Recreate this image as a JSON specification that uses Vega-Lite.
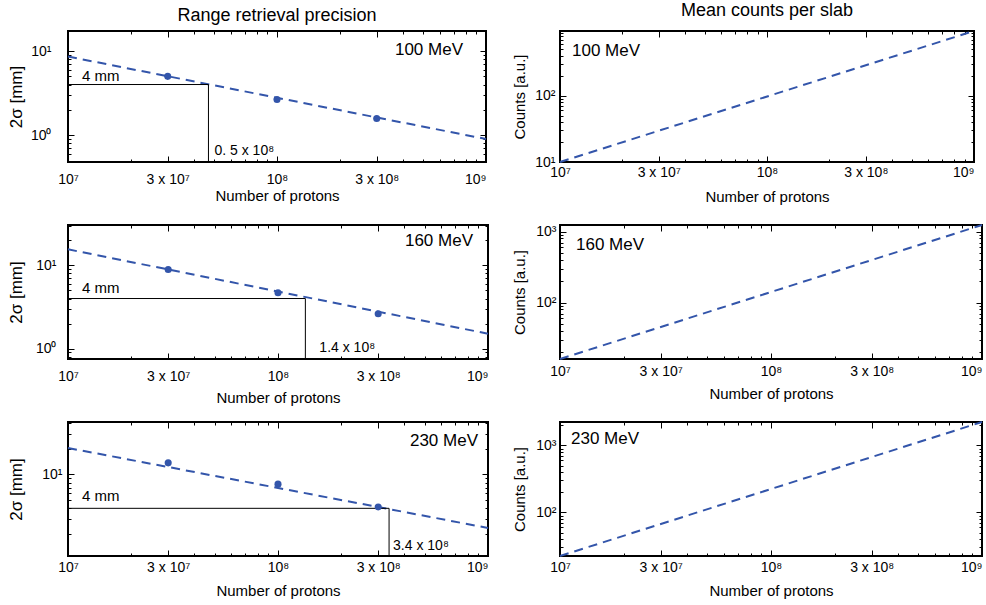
{
  "$schema": "https://vega.github.io/schema/vega-lite/v6.json",
  "background": "white",
  "padding": {"left": 5, "top": 0, "right": 5, "bottom": 5},
  "config": {
    "font": "Liberation Sans",
    "view": {"stroke": "black", "strokeWidth": 2},
    "axis": {"domain": false, "grid": false, "labelFont": "Liberation Sans", "labelFontSize": 14, "labelColor": "black", "titleFont": "Liberation Sans", "titleFontWeight": "normal", "titleColor": "black", "tickColor": "black", "tickWidth": 1, "labelFlush": false, "labelOverlap": false},
    "title": {"font": "Liberation Sans", "fontWeight": "normal", "color": "black", "fontSize": 18}
  },
  "datasets": {
    "lineA": [{"n": 10000000, "v": 8.6}, {"n": 1000000000, "v": 0.9}],
    "ptsA": [{"n": 30000000, "v": 5.0}, {"n": 100000000, "v": 2.66}, {"n": 300000000, "v": 1.58}],
    "thrA": [{"n0": 10000000, "n": 47000000, "v0": 0.48, "v": 4, "tag": "4 mm", "label": "0. 5 x 10⁸"}],
    "enA": [{"n": 1000000000, "v": 17.3, "label": "100 MeV"}],
    "lineB": [{"n": 10000000, "v": 10}, {"n": 1000000000, "v": 950}],
    "enB": [{"n": 10000000, "v": 950, "label": "100 MeV"}],
    "lineC": [{"n": 10000000, "v": 15.6}, {"n": 1000000000, "v": 1.51}],
    "ptsC": [{"n": 30000000, "v": 8.94}, {"n": 100000000, "v": 4.7}, {"n": 300000000, "v": 2.63}],
    "thrC": [{"n0": 10000000, "n": 135000000, "v0": 0.75, "v": 4, "tag": "4 mm", "label": "1.4 x 10⁸"}],
    "enC": [{"n": 1000000000, "v": 30.6, "label": "160 MeV"}],
    "lineD": [{"n": 10000000, "v": 16}, {"n": 1000000000, "v": 1240}],
    "enD": [{"n": 10000000, "v": 1240, "label": "160 MeV"}],
    "lineE": [{"n": 10000000, "v": 20.5}, {"n": 1000000000, "v": 2.35}],
    "ptsE": [{"n": 30000000, "v": 13.7}, {"n": 100000000, "v": 7.7}, {"n": 300000000, "v": 4.15}],
    "thrE": [{"n0": 10000000, "n": 338000000, "v0": 1.1, "v": 4, "tag": "4 mm", "label": "3.4 x 10⁸"}],
    "enE": [{"n": 1000000000, "v": 41.4, "label": "230 MeV"}],
    "lineF": [{"n": 10000000, "v": 22.4}, {"n": 1000000000, "v": 2240}],
    "enF": [{"n": 10000000, "v": 2240, "label": "230 MeV"}]
  },
  "columns": 2,
  "spacing": {"row": 63, "column": 72},
  "bounds": "flush",
  "resolve": {"scale": {"x": "independent", "y": "independent"}},
  "concat": [
    {
      "width": 418, "height": 131,
      "title": {"text": "Range retrieval precision", "frame": "group", "offset": -8, "baseline": "alphabetic"},
      "resolve": {"axis": {"x": "independent", "y": "independent"}},
      "layer": [
        {
          "data": {"name": "lineA"},
          "mark": {"type": "line", "color": "#3355aa", "strokeDash": [9, 6], "strokeWidth": 2},
          "encoding": {
            "x": {"field": "n", "type": "quantitative", "scale": {"type": "log", "domain": [10000000, 1000000000], "nice": false},
              "axis": {"orient": "bottom", "values": [10000000,20000000,30000000,40000000,50000000,60000000,70000000,80000000,90000000,100000000,200000000,300000000,400000000,500000000,600000000,700000000,800000000,900000000,1000000000],
                "labelExpr": "datum.value == 10000000 ? '10⁷' : datum.value == 30000000 ? '3 x 10⁷' : datum.value == 100000000 ? '10⁸' : datum.value == 300000000 ? '3 x 10⁸' : datum.value == 1000000000 ? '10⁹' : ''",
                "labelAlign": {"condition": {"test": "datum.value == 1000000000", "value": "right"}, "value": "center"},
                "tickSize": {"condition": {"test": "datum.value == 10000000 || datum.value == 30000000 || datum.value == 100000000 || datum.value == 300000000 || datum.value == 1000000000", "value": -6}, "value": -3},
                "labelPadding": 16, "title": "Number of protons", "titleFontSize": 15, "titleY": 26}},
            "y": {"field": "v", "type": "quantitative", "scale": {"type": "log", "domain": [0.48, 17.3], "nice": false},
              "axis": {"orient": "left", "values": [0.5,0.6,0.7,0.8,0.9,1,2,3,4,5,6,7,8,9,10],
                "labelExpr": "datum.value == 1 ? '10⁰' : datum.value == 10 ? '10¹' : datum.value == 100 ? '10²' : datum.value == 1000 ? '10³' : ''",
                "tickSize": {"condition": {"test": "datum.value == 1 || datum.value == 10 || datum.value == 100 || datum.value == 1000", "value": -6}, "value": -3},
                "labelPadding": 23, "title": "2σ [mm]", "titleFontSize": 17, "titleX": -43}}
          }
        },
        {
          "data": {"name": "enA"},
          "mark": {"type": "text", "align": "right", "baseline": "top", "dx": -23, "dy": 11, "fontSize": 17},
          "encoding": {
            "x": {"field": "n", "type": "quantitative", "scale": {"type": "log", "domain": [10000000, 1000000000], "nice": false},
              "axis": {"orient": "top", "labels": false, "title": null, "values": [10000000,20000000,30000000,40000000,50000000,60000000,70000000,80000000,90000000,100000000,200000000,300000000,400000000,500000000,600000000,700000000,800000000,900000000,1000000000],
                "tickSize": {"condition": {"test": "datum.value == 10000000 || datum.value == 30000000 || datum.value == 100000000 || datum.value == 300000000 || datum.value == 1000000000", "value": -6}, "value": -3}}},
            "y": {"field": "v", "type": "quantitative", "scale": {"type": "log", "domain": [0.48, 17.3], "nice": false},
              "axis": {"orient": "right", "labels": false, "title": null, "values": [0.5,0.6,0.7,0.8,0.9,1,2,3,4,5,6,7,8,9,10],
                "tickSize": {"condition": {"test": "datum.value == 1 || datum.value == 10 || datum.value == 100 || datum.value == 1000", "value": -6}, "value": -3}}},
            "text": {"field": "label"}
          }
        },
        {
          "data": {"name": "thrA"},
          "mark": {"type": "rule", "color": "black", "strokeWidth": 1},
          "encoding": {
            "x": {"field": "n0", "type": "quantitative", "scale": {"type": "log", "domain": [10000000, 1000000000], "nice": false}, "axis": null},
            "x2": {"field": "n"},
            "y": {"field": "v", "type": "quantitative", "scale": {"type": "log", "domain": [0.48, 17.3], "nice": false}, "axis": null}
          }
        },
        {
          "data": {"name": "thrA"},
          "mark": {"type": "rule", "color": "black", "strokeWidth": 1},
          "encoding": {
            "x": {"field": "n", "type": "quantitative", "scale": {"type": "log", "domain": [10000000, 1000000000], "nice": false}, "axis": null},
            "y": {"field": "v0", "type": "quantitative", "scale": {"type": "log", "domain": [0.48, 17.3], "nice": false}, "axis": null},
            "y2": {"field": "v"}
          }
        },
        {
          "data": {"name": "thrA"},
          "mark": {"type": "text", "align": "left", "baseline": "bottom", "dx": 14, "dy": -1, "fontSize": 15},
          "encoding": {
            "x": {"field": "n0", "type": "quantitative", "scale": {"type": "log", "domain": [10000000, 1000000000], "nice": false}, "axis": null},
            "y": {"field": "v", "type": "quantitative", "scale": {"type": "log", "domain": [0.48, 17.3], "nice": false}, "axis": null},
            "text": {"field": "tag"}
          }
        },
        {
          "data": {"name": "thrA"},
          "mark": {"type": "text", "align": "left", "baseline": "bottom", "dx": 6, "dy": -4, "fontSize": 14},
          "encoding": {
            "x": {"field": "n", "type": "quantitative", "scale": {"type": "log", "domain": [10000000, 1000000000], "nice": false}, "axis": null},
            "y": {"field": "v0", "type": "quantitative", "scale": {"type": "log", "domain": [0.48, 17.3], "nice": false}, "axis": null},
            "text": {"field": "label"}
          }
        },
        {
          "data": {"name": "ptsA"},
          "mark": {"type": "circle", "color": "#3355aa", "size": 50, "opacity": 1},
          "encoding": {
            "x": {"field": "n", "type": "quantitative", "scale": {"type": "log", "domain": [10000000, 1000000000], "nice": false}, "axis": null},
            "y": {"field": "v", "type": "quantitative", "scale": {"type": "log", "domain": [0.48, 17.3], "nice": false}, "axis": null}
          }
        }
      ]
    },
    {
      "width": 414, "height": 131,
      "title": {"text": "Mean counts per slab", "frame": "group", "offset": -8, "baseline": "alphabetic"},
      "resolve": {"axis": {"x": "independent", "y": "independent"}},
      "layer": [
        {
          "data": {"name": "lineB"},
          "mark": {"type": "line", "color": "#3355aa", "strokeDash": [9, 6], "strokeWidth": 2},
          "encoding": {
            "x": {"field": "n", "type": "quantitative", "scale": {"type": "log", "domain": [10000000, 1000000000], "nice": false},
              "axis": {"orient": "bottom", "values": [10000000,20000000,30000000,40000000,50000000,60000000,70000000,80000000,90000000,100000000,200000000,300000000,400000000,500000000,600000000,700000000,800000000,900000000,1000000000],
                "labelExpr": "datum.value == 10000000 ? '10⁷' : datum.value == 30000000 ? '3 x 10⁷' : datum.value == 100000000 ? '10⁸' : datum.value == 300000000 ? '3 x 10⁸' : datum.value == 1000000000 ? '10⁹' : ''",
                "labelAlign": {"condition": {"test": "datum.value == 1000000000", "value": "right"}, "value": "center"},
                "tickSize": {"condition": {"test": "datum.value == 10000000 || datum.value == 30000000 || datum.value == 100000000 || datum.value == 300000000 || datum.value == 1000000000", "value": -6}, "value": -3},
                "labelPadding": 9, "title": "Number of protons", "titleFontSize": 15, "titleY": 27}},
            "y": {"field": "v", "type": "quantitative", "scale": {"type": "log", "domain": [10, 950], "nice": false},
              "axis": {"orient": "left", "values": [10,20,30,40,50,60,70,80,90,100,200,300,400,500,600,700,800,900],
                "labelExpr": "datum.value == 1 ? '10⁰' : datum.value == 10 ? '10¹' : datum.value == 100 ? '10²' : datum.value == 1000 ? '10³' : ''",
                "tickSize": {"condition": {"test": "datum.value == 1 || datum.value == 10 || datum.value == 100 || datum.value == 1000", "value": -6}, "value": -3},
                "labelPadding": 11, "title": "Counts [a.u.]", "titleFontSize": 15, "titleX": -33}}
          }
        },
        {
          "data": {"name": "enB"},
          "mark": {"type": "text", "align": "left", "baseline": "top", "dx": 12, "dy": 12, "fontSize": 17},
          "encoding": {
            "x": {"field": "n", "type": "quantitative", "scale": {"type": "log", "domain": [10000000, 1000000000], "nice": false},
              "axis": {"orient": "top", "labels": false, "title": null, "values": [10000000,20000000,30000000,40000000,50000000,60000000,70000000,80000000,90000000,100000000,200000000,300000000,400000000,500000000,600000000,700000000,800000000,900000000,1000000000],
                "tickSize": {"condition": {"test": "datum.value == 10000000 || datum.value == 30000000 || datum.value == 100000000 || datum.value == 300000000 || datum.value == 1000000000", "value": -6}, "value": -3}}},
            "y": {"field": "v", "type": "quantitative", "scale": {"type": "log", "domain": [10, 950], "nice": false},
              "axis": {"orient": "right", "labels": false, "title": null, "values": [10,20,30,40,50,60,70,80,90,100,200,300,400,500,600,700,800,900],
                "tickSize": {"condition": {"test": "datum.value == 1 || datum.value == 10 || datum.value == 100 || datum.value == 1000", "value": -6}, "value": -3}}},
            "text": {"field": "label"}
          }
        }
      ]
    },
    {
      "width": 420, "height": 134,
      "resolve": {"axis": {"x": "independent", "y": "independent"}},
      "layer": [
        {
          "data": {"name": "lineC"},
          "mark": {"type": "line", "color": "#3355aa", "strokeDash": [9, 6], "strokeWidth": 2},
          "encoding": {
            "x": {"field": "n", "type": "quantitative", "scale": {"type": "log", "domain": [10000000, 1000000000], "nice": false},
              "axis": {"orient": "bottom", "values": [10000000,20000000,30000000,40000000,50000000,60000000,70000000,80000000,90000000,100000000,200000000,300000000,400000000,500000000,600000000,700000000,800000000,900000000,1000000000],
                "labelExpr": "datum.value == 10000000 ? '10⁷' : datum.value == 30000000 ? '3 x 10⁷' : datum.value == 100000000 ? '10⁸' : datum.value == 300000000 ? '3 x 10⁸' : datum.value == 1000000000 ? '10⁹' : ''",
                "labelAlign": {"condition": {"test": "datum.value == 1000000000", "value": "right"}, "value": "center"},
                "tickSize": {"condition": {"test": "datum.value == 10000000 || datum.value == 30000000 || datum.value == 100000000 || datum.value == 300000000 || datum.value == 1000000000", "value": -6}, "value": -3},
                "labelPadding": 16, "title": "Number of protons", "titleFontSize": 15, "titleY": 31}},
            "y": {"field": "v", "type": "quantitative", "scale": {"type": "log", "domain": [0.75, 30.6], "nice": false},
              "axis": {"orient": "left", "values": [0.8,0.9,1,2,3,4,5,6,7,8,9,10,20,30],
                "labelExpr": "datum.value == 1 ? '10⁰' : datum.value == 10 ? '10¹' : datum.value == 100 ? '10²' : datum.value == 1000 ? '10³' : ''",
                "tickSize": {"condition": {"test": "datum.value == 1 || datum.value == 10 || datum.value == 100 || datum.value == 1000", "value": -6}, "value": -3},
                "labelPadding": 18, "title": "2σ [mm]", "titleFontSize": 17, "titleX": -43}}
          }
        },
        {
          "data": {"name": "enC"},
          "mark": {"type": "text", "align": "right", "baseline": "top", "dx": -15, "dy": 8, "fontSize": 17},
          "encoding": {
            "x": {"field": "n", "type": "quantitative", "scale": {"type": "log", "domain": [10000000, 1000000000], "nice": false},
              "axis": {"orient": "top", "labels": false, "title": null, "values": [10000000,20000000,30000000,40000000,50000000,60000000,70000000,80000000,90000000,100000000,200000000,300000000,400000000,500000000,600000000,700000000,800000000,900000000,1000000000],
                "tickSize": {"condition": {"test": "datum.value == 10000000 || datum.value == 30000000 || datum.value == 100000000 || datum.value == 300000000 || datum.value == 1000000000", "value": -6}, "value": -3}}},
            "y": {"field": "v", "type": "quantitative", "scale": {"type": "log", "domain": [0.75, 30.6], "nice": false},
              "axis": {"orient": "right", "labels": false, "title": null, "values": [0.8,0.9,1,2,3,4,5,6,7,8,9,10,20,30],
                "tickSize": {"condition": {"test": "datum.value == 1 || datum.value == 10 || datum.value == 100 || datum.value == 1000", "value": -6}, "value": -3}}},
            "text": {"field": "label"}
          }
        },
        {
          "data": {"name": "thrC"},
          "mark": {"type": "rule", "color": "black", "strokeWidth": 1},
          "encoding": {
            "x": {"field": "n0", "type": "quantitative", "scale": {"type": "log", "domain": [10000000, 1000000000], "nice": false}, "axis": null},
            "x2": {"field": "n"},
            "y": {"field": "v", "type": "quantitative", "scale": {"type": "log", "domain": [0.75, 30.6], "nice": false}, "axis": null}
          }
        },
        {
          "data": {"name": "thrC"},
          "mark": {"type": "rule", "color": "black", "strokeWidth": 1},
          "encoding": {
            "x": {"field": "n", "type": "quantitative", "scale": {"type": "log", "domain": [10000000, 1000000000], "nice": false}, "axis": null},
            "y": {"field": "v0", "type": "quantitative", "scale": {"type": "log", "domain": [0.75, 30.6], "nice": false}, "axis": null},
            "y2": {"field": "v"}
          }
        },
        {
          "data": {"name": "thrC"},
          "mark": {"type": "text", "align": "left", "baseline": "bottom", "dx": 14, "dy": -3, "fontSize": 15},
          "encoding": {
            "x": {"field": "n0", "type": "quantitative", "scale": {"type": "log", "domain": [10000000, 1000000000], "nice": false}, "axis": null},
            "y": {"field": "v", "type": "quantitative", "scale": {"type": "log", "domain": [0.75, 30.6], "nice": false}, "axis": null},
            "text": {"field": "tag"}
          }
        },
        {
          "data": {"name": "thrC"},
          "mark": {"type": "text", "align": "left", "baseline": "bottom", "dx": 14, "dy": -4.5, "fontSize": 14},
          "encoding": {
            "x": {"field": "n", "type": "quantitative", "scale": {"type": "log", "domain": [10000000, 1000000000], "nice": false}, "axis": null},
            "y": {"field": "v0", "type": "quantitative", "scale": {"type": "log", "domain": [0.75, 30.6], "nice": false}, "axis": null},
            "text": {"field": "label"}
          }
        },
        {
          "data": {"name": "ptsC"},
          "mark": {"type": "circle", "color": "#3355aa", "size": 50, "opacity": 1},
          "encoding": {
            "x": {"field": "n", "type": "quantitative", "scale": {"type": "log", "domain": [10000000, 1000000000], "nice": false}, "axis": null},
            "y": {"field": "v", "type": "quantitative", "scale": {"type": "log", "domain": [0.75, 30.6], "nice": false}, "axis": null}
          }
        }
      ]
    },
    {
      "width": 422, "height": 134,
      "resolve": {"axis": {"x": "independent", "y": "independent"}},
      "layer": [
        {
          "data": {"name": "lineD"},
          "mark": {"type": "line", "color": "#3355aa", "strokeDash": [9, 6], "strokeWidth": 2},
          "encoding": {
            "x": {"field": "n", "type": "quantitative", "scale": {"type": "log", "domain": [10000000, 1000000000], "nice": false},
              "axis": {"orient": "bottom", "values": [10000000,20000000,30000000,40000000,50000000,60000000,70000000,80000000,90000000,100000000,200000000,300000000,400000000,500000000,600000000,700000000,800000000,900000000,1000000000],
                "labelExpr": "datum.value == 10000000 ? '10⁷' : datum.value == 30000000 ? '3 x 10⁷' : datum.value == 100000000 ? '10⁸' : datum.value == 300000000 ? '3 x 10⁸' : datum.value == 1000000000 ? '10⁹' : ''",
                "labelAlign": {"condition": {"test": "datum.value == 1000000000", "value": "right"}, "value": "center"},
                "tickSize": {"condition": {"test": "datum.value == 10000000 || datum.value == 30000000 || datum.value == 100000000 || datum.value == 300000000 || datum.value == 1000000000", "value": -6}, "value": -3},
                "labelPadding": 11, "title": "Number of protons", "titleFontSize": 15, "titleY": 27}},
            "y": {"field": "v", "type": "quantitative", "scale": {"type": "log", "domain": [16, 1240], "nice": false},
              "axis": {"orient": "left", "values": [20,30,40,50,60,70,80,90,100,200,300,400,500,600,700,800,900,1000],
                "labelExpr": "datum.value == 1 ? '10⁰' : datum.value == 10 ? '10¹' : datum.value == 100 ? '10²' : datum.value == 1000 ? '10³' : ''",
                "tickSize": {"condition": {"test": "datum.value == 1 || datum.value == 10 || datum.value == 100 || datum.value == 1000", "value": -6}, "value": -3},
                "labelPadding": 10, "title": "Counts [a.u.]", "titleFontSize": 15, "titleX": -33}}
          }
        },
        {
          "data": {"name": "enD"},
          "mark": {"type": "text", "align": "left", "baseline": "top", "dx": 16, "dy": 12, "fontSize": 17},
          "encoding": {
            "x": {"field": "n", "type": "quantitative", "scale": {"type": "log", "domain": [10000000, 1000000000], "nice": false},
              "axis": {"orient": "top", "labels": false, "title": null, "values": [10000000,20000000,30000000,40000000,50000000,60000000,70000000,80000000,90000000,100000000,200000000,300000000,400000000,500000000,600000000,700000000,800000000,900000000,1000000000],
                "tickSize": {"condition": {"test": "datum.value == 10000000 || datum.value == 30000000 || datum.value == 100000000 || datum.value == 300000000 || datum.value == 1000000000", "value": -6}, "value": -3}}},
            "y": {"field": "v", "type": "quantitative", "scale": {"type": "log", "domain": [16, 1240], "nice": false},
              "axis": {"orient": "right", "labels": false, "title": null, "values": [20,30,40,50,60,70,80,90,100,200,300,400,500,600,700,800,900,1000],
                "tickSize": {"condition": {"test": "datum.value == 1 || datum.value == 10 || datum.value == 100 || datum.value == 1000", "value": -6}, "value": -3}}},
            "text": {"field": "label"}
          }
        }
      ]
    },
    {
      "width": 420, "height": 134,
      "resolve": {"axis": {"x": "independent", "y": "independent"}},
      "layer": [
        {
          "data": {"name": "lineE"},
          "mark": {"type": "line", "color": "#3355aa", "strokeDash": [9, 6], "strokeWidth": 2},
          "encoding": {
            "x": {"field": "n", "type": "quantitative", "scale": {"type": "log", "domain": [10000000, 1000000000], "nice": false},
              "axis": {"orient": "bottom", "values": [10000000,20000000,30000000,40000000,50000000,60000000,70000000,80000000,90000000,100000000,200000000,300000000,400000000,500000000,600000000,700000000,800000000,900000000,1000000000],
                "labelExpr": "datum.value == 10000000 ? '10⁷' : datum.value == 30000000 ? '3 x 10⁷' : datum.value == 100000000 ? '10⁸' : datum.value == 300000000 ? '3 x 10⁸' : datum.value == 1000000000 ? '10⁹' : ''",
                "labelAlign": {"condition": {"test": "datum.value == 1000000000", "value": "right"}, "value": "center"},
                "tickSize": {"condition": {"test": "datum.value == 10000000 || datum.value == 30000000 || datum.value == 100000000 || datum.value == 300000000 || datum.value == 1000000000", "value": -6}, "value": -3},
                "labelPadding": 10, "title": "Number of protons", "titleFontSize": 15, "titleY": 27}},
            "y": {"field": "v", "type": "quantitative", "scale": {"type": "log", "domain": [1.1, 41.4], "nice": false},
              "axis": {"orient": "left", "values": [2,3,4,5,6,7,8,9,10,20,30,40],
                "labelExpr": "datum.value == 1 ? '10⁰' : datum.value == 10 ? '10¹' : datum.value == 100 ? '10²' : datum.value == 1000 ? '10³' : ''",
                "tickSize": {"condition": {"test": "datum.value == 1 || datum.value == 10 || datum.value == 100 || datum.value == 1000", "value": -6}, "value": -3},
                "labelPadding": 12, "title": "2σ [mm]", "titleFontSize": 17, "titleX": -43}}
          }
        },
        {
          "data": {"name": "enE"},
          "mark": {"type": "text", "align": "right", "baseline": "top", "dx": -10, "dy": 11, "fontSize": 17},
          "encoding": {
            "x": {"field": "n", "type": "quantitative", "scale": {"type": "log", "domain": [10000000, 1000000000], "nice": false},
              "axis": {"orient": "top", "labels": false, "title": null, "values": [10000000,20000000,30000000,40000000,50000000,60000000,70000000,80000000,90000000,100000000,200000000,300000000,400000000,500000000,600000000,700000000,800000000,900000000,1000000000],
                "tickSize": {"condition": {"test": "datum.value == 10000000 || datum.value == 30000000 || datum.value == 100000000 || datum.value == 300000000 || datum.value == 1000000000", "value": -6}, "value": -3}}},
            "y": {"field": "v", "type": "quantitative", "scale": {"type": "log", "domain": [1.1, 41.4], "nice": false},
              "axis": {"orient": "right", "labels": false, "title": null, "values": [2,3,4,5,6,7,8,9,10,20,30,40],
                "tickSize": {"condition": {"test": "datum.value == 1 || datum.value == 10 || datum.value == 100 || datum.value == 1000", "value": -6}, "value": -3}}},
            "text": {"field": "label"}
          }
        },
        {
          "data": {"name": "thrE"},
          "mark": {"type": "rule", "color": "black", "strokeWidth": 1},
          "encoding": {
            "x": {"field": "n0", "type": "quantitative", "scale": {"type": "log", "domain": [10000000, 1000000000], "nice": false}, "axis": null},
            "x2": {"field": "n"},
            "y": {"field": "v", "type": "quantitative", "scale": {"type": "log", "domain": [1.1, 41.4], "nice": false}, "axis": null}
          }
        },
        {
          "data": {"name": "thrE"},
          "mark": {"type": "rule", "color": "black", "strokeWidth": 1},
          "encoding": {
            "x": {"field": "n", "type": "quantitative", "scale": {"type": "log", "domain": [10000000, 1000000000], "nice": false}, "axis": null},
            "y": {"field": "v0", "type": "quantitative", "scale": {"type": "log", "domain": [1.1, 41.4], "nice": false}, "axis": null},
            "y2": {"field": "v"}
          }
        },
        {
          "data": {"name": "thrE"},
          "mark": {"type": "text", "align": "left", "baseline": "bottom", "dx": 14, "dy": -4.5, "fontSize": 15},
          "encoding": {
            "x": {"field": "n0", "type": "quantitative", "scale": {"type": "log", "domain": [10000000, 1000000000], "nice": false}, "axis": null},
            "y": {"field": "v", "type": "quantitative", "scale": {"type": "log", "domain": [1.1, 41.4], "nice": false}, "axis": null},
            "text": {"field": "tag"}
          }
        },
        {
          "data": {"name": "thrE"},
          "mark": {"type": "text", "align": "left", "baseline": "bottom", "dx": 4, "dy": -3.5, "fontSize": 14},
          "encoding": {
            "x": {"field": "n", "type": "quantitative", "scale": {"type": "log", "domain": [10000000, 1000000000], "nice": false}, "axis": null},
            "y": {"field": "v0", "type": "quantitative", "scale": {"type": "log", "domain": [1.1, 41.4], "nice": false}, "axis": null},
            "text": {"field": "label"}
          }
        },
        {
          "data": {"name": "ptsE"},
          "mark": {"type": "circle", "color": "#3355aa", "size": 50, "opacity": 1},
          "encoding": {
            "x": {"field": "n", "type": "quantitative", "scale": {"type": "log", "domain": [10000000, 1000000000], "nice": false}, "axis": null},
            "y": {"field": "v", "type": "quantitative", "scale": {"type": "log", "domain": [1.1, 41.4], "nice": false}, "axis": null}
          }
        }
      ]
    },
    {
      "width": 422, "height": 134,
      "resolve": {"axis": {"x": "independent", "y": "independent"}},
      "layer": [
        {
          "data": {"name": "lineF"},
          "mark": {"type": "line", "color": "#3355aa", "strokeDash": [9, 6], "strokeWidth": 2},
          "encoding": {
            "x": {"field": "n", "type": "quantitative", "scale": {"type": "log", "domain": [10000000, 1000000000], "nice": false},
              "axis": {"orient": "bottom", "values": [10000000,20000000,30000000,40000000,50000000,60000000,70000000,80000000,90000000,100000000,200000000,300000000,400000000,500000000,600000000,700000000,800000000,900000000,1000000000],
                "labelExpr": "datum.value == 10000000 ? '10⁷' : datum.value == 30000000 ? '3 x 10⁷' : datum.value == 100000000 ? '10⁸' : datum.value == 300000000 ? '3 x 10⁸' : datum.value == 1000000000 ? '10⁹' : ''",
                "labelAlign": {"condition": {"test": "datum.value == 1000000000", "value": "right"}, "value": "center"},
                "tickSize": {"condition": {"test": "datum.value == 10000000 || datum.value == 30000000 || datum.value == 100000000 || datum.value == 300000000 || datum.value == 1000000000", "value": -6}, "value": -3},
                "labelPadding": 10, "title": "Number of protons", "titleFontSize": 15, "titleY": 27}},
            "y": {"field": "v", "type": "quantitative", "scale": {"type": "log", "domain": [22.4, 2240], "nice": false},
              "axis": {"orient": "left", "values": [30,40,50,60,70,80,90,100,200,300,400,500,600,700,800,900,1000,2000],
                "labelExpr": "datum.value == 1 ? '10⁰' : datum.value == 10 ? '10¹' : datum.value == 100 ? '10²' : datum.value == 1000 ? '10³' : ''",
                "tickSize": {"condition": {"test": "datum.value == 1 || datum.value == 10 || datum.value == 100 || datum.value == 1000", "value": -6}, "value": -3},
                "labelPadding": 10, "title": "Counts [a.u.]", "titleFontSize": 15, "titleX": -33}}
          }
        },
        {
          "data": {"name": "enF"},
          "mark": {"type": "text", "align": "left", "baseline": "top", "dx": 11, "dy": 9, "fontSize": 17},
          "encoding": {
            "x": {"field": "n", "type": "quantitative", "scale": {"type": "log", "domain": [10000000, 1000000000], "nice": false},
              "axis": {"orient": "top", "labels": false, "title": null, "values": [10000000,20000000,30000000,40000000,50000000,60000000,70000000,80000000,90000000,100000000,200000000,300000000,400000000,500000000,600000000,700000000,800000000,900000000,1000000000],
                "tickSize": {"condition": {"test": "datum.value == 10000000 || datum.value == 30000000 || datum.value == 100000000 || datum.value == 300000000 || datum.value == 1000000000", "value": -6}, "value": -3}}},
            "y": {"field": "v", "type": "quantitative", "scale": {"type": "log", "domain": [22.4, 2240], "nice": false},
              "axis": {"orient": "right", "labels": false, "title": null, "values": [30,40,50,60,70,80,90,100,200,300,400,500,600,700,800,900,1000,2000],
                "tickSize": {"condition": {"test": "datum.value == 1 || datum.value == 10 || datum.value == 100 || datum.value == 1000", "value": -6}, "value": -3}}},
            "text": {"field": "label"}
          }
        }
      ]
    }
  ]
}
